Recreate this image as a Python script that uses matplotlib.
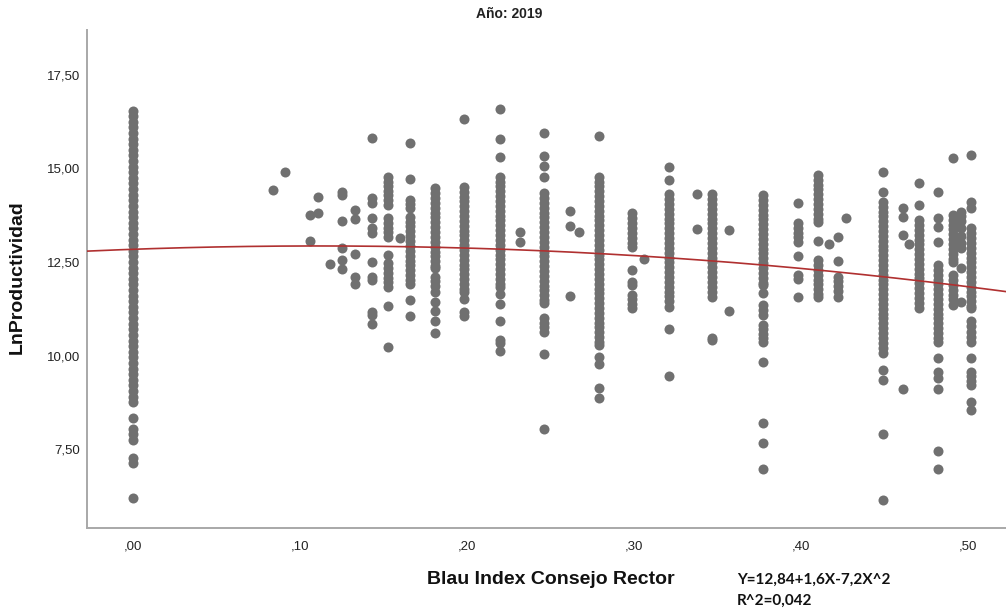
import numpy as np
import matplotlib.pyplot as plt
from matplotlib.ticker import FuncFormatter

# Quadratic fit shown under the chart
b0, b1, b2 = 12.84, 1.6, -7.2
eq_text = "Y=12,84+1,6X-7,2X^2"
r2_text = "R^2=0,042"

# LnProductividad values read per Blau index level (column of points)
y_000 = [16.55, 16.40, 16.25, 16.10, 15.95, 15.80, 15.65, 15.50, 15.35, 15.20, 15.05, 14.90,
         14.75, 14.60, 14.45, 14.30, 14.15, 14.00, 13.85, 13.70, 13.55, 13.40, 13.25, 13.10,
         12.95, 12.80, 12.65, 12.50, 12.35, 12.20, 12.05, 11.90, 11.75, 11.60, 11.45, 11.30,
         11.15, 11.00, 10.85, 10.70, 10.55, 10.40, 10.25, 10.10, 9.95, 9.80, 9.65, 9.50,
         9.35, 9.22, 9.05, 8.90, 8.76, 8.34, 8.03, 7.90, 7.74, 7.25, 7.13, 6.20]
y_084 = [14.43]
y_091 = [14.91]
y_106 = [13.76, 13.07]
y_111 = [14.24, 13.80]
y_118 = [12.44]
y_125 = [14.38, 14.29, 13.60, 12.87, 12.55, 12.30]
y_133 = [13.89, 13.65, 12.71, 12.11, 11.90]
y_143 = [15.82, 14.20, 14.07, 13.68, 13.40, 13.28, 12.49, 12.11, 12.02, 11.17, 11.08, 10.85]
y_153 = [14.78, 14.65, 14.52, 14.40, 14.29, 14.16, 14.02, 13.67, 13.55, 13.42, 13.30, 13.18,
         12.69, 12.46, 12.33, 12.20, 12.08, 11.96, 11.84, 11.33, 10.22]
y_160 = [13.13]
y_166 = [15.67, 14.72, 14.16, 14.05, 13.94, 13.71, 13.58, 13.45, 13.32, 13.19, 13.06, 12.93,
         12.80, 12.67, 12.54, 12.41, 12.28, 12.15, 12.02, 11.90, 11.48, 11.06]
y_181 = [14.47, 14.34, 14.21, 14.08, 13.95, 13.82, 13.69, 13.56, 13.43, 13.30, 13.17, 13.04,
         12.91, 12.78, 12.65, 12.52, 12.40, 12.33, 12.11, 11.98, 11.85, 11.71, 11.42, 11.19,
         10.91, 10.60]
y_198 = [16.32, 14.51, 14.38, 14.25, 14.12, 13.99, 13.86, 13.73, 13.60, 13.47, 13.34, 13.21,
         13.08, 12.95, 12.82, 12.69, 12.56, 12.43, 12.30, 12.17, 12.04, 11.91, 11.78, 11.71,
         11.51, 11.17, 11.05]
y_220 = [16.59, 15.79, 15.31, 14.78, 14.65, 14.52, 14.39, 14.26, 14.13, 14.00, 13.87, 13.74,
         13.61, 13.48, 13.35, 13.22, 13.09, 12.96, 12.83, 12.70, 12.57, 12.44, 12.31, 12.18,
         12.05, 11.92, 11.84, 11.64, 11.38, 10.92, 10.41, 10.33, 10.12]
y_232 = [13.29, 13.03]
y_246 = [15.94, 15.34, 15.08, 14.76, 14.34, 14.21, 14.08, 13.95, 13.82, 13.69, 13.56, 13.43,
         13.30, 13.17, 13.04, 12.91, 12.78, 12.65, 12.52, 12.39, 12.26, 12.13, 12.00, 11.87,
         11.74, 11.61, 11.48, 11.40, 10.99, 10.87, 10.75, 10.64, 10.03, 8.03]
y_262 = [13.86, 13.47, 11.60]
y_267 = [13.31]
y_279 = [15.88, 14.78, 14.65, 14.52, 14.39, 14.26, 14.13, 14.00, 13.87, 13.74, 13.61, 13.48,
         13.35, 13.22, 13.09, 12.96, 12.83, 12.70, 12.57, 12.44, 12.31, 12.18, 12.05, 11.92,
         11.79, 11.66, 11.53, 11.40, 11.27, 11.14, 11.01, 10.88, 10.75, 10.62, 10.49, 10.36,
         10.28, 9.97, 9.76, 9.12, 8.87]
y_299 = [13.80, 13.67, 13.54, 13.41, 13.28, 13.15, 13.02, 12.89, 12.29, 11.97, 11.88, 11.62,
         11.50, 11.38, 11.26]
y_306 = [12.58]
y_321 = [15.05, 14.69, 14.31, 14.18, 14.05, 13.92, 13.79, 13.66, 13.53, 13.40, 13.27, 13.14,
         13.01, 12.88, 12.75, 12.62, 12.49, 12.36, 12.23, 12.10, 11.97, 11.84, 11.71, 11.58,
         11.45, 11.30, 10.70, 9.45]
y_338 = [14.33, 13.37]
y_347 = [14.31, 14.18, 14.05, 13.92, 13.79, 13.66, 13.53, 13.40, 13.27, 13.14, 13.01, 12.88,
         12.75, 12.62, 12.49, 12.36, 12.23, 12.10, 11.97, 11.84, 11.71, 11.57, 10.48, 10.42]
y_357 = [13.35, 11.20]
y_377 = [14.29, 14.16, 14.03, 13.90, 13.77, 13.64, 13.51, 13.38, 13.25, 13.12, 12.99, 12.86,
         12.73, 12.60, 12.47, 12.34, 12.21, 12.08, 11.95, 11.88, 11.66, 11.35, 11.22, 11.08,
         10.82, 10.70, 10.58, 10.46, 10.37, 9.83, 8.19, 7.65, 6.96]
y_398 = [14.07, 13.53, 13.40, 13.28, 13.16, 13.04, 12.66, 12.15, 12.05, 11.56]
y_410 = [14.83, 14.70, 14.57, 14.44, 14.31, 14.18, 14.05, 13.92, 13.79, 13.66, 13.58, 13.07,
         12.55, 12.42, 12.29, 12.16, 12.03, 11.90, 11.77, 11.64, 11.57]
y_417 = [12.98]
y_422 = [13.18, 12.53, 12.11, 11.98, 11.85, 11.72, 11.57]
y_427 = [13.67]
y_449 = [14.90, 14.38, 14.11, 13.98, 13.85, 13.72, 13.59, 13.46, 13.33, 13.20, 13.07, 12.94,
         12.81, 12.68, 12.55, 12.42, 12.29, 12.16, 12.03, 11.90, 11.77, 11.64, 11.51, 11.38,
         11.25, 11.12, 10.99, 10.86, 10.73, 10.60, 10.47, 10.34, 10.21, 10.06, 9.61, 9.34,
         7.90, 6.15]
y_461 = [13.94, 13.71, 13.21, 9.10]
y_465 = [12.98]
y_471 = [14.60, 14.02, 13.62, 13.49, 13.36, 13.23, 13.10, 12.97, 12.84, 12.71, 12.58, 12.45,
         12.32, 12.19, 12.06, 11.93, 11.80, 11.67, 11.54, 11.41, 11.26]
y_482 = [14.38, 13.67, 13.44, 13.04, 12.42, 12.29, 12.16, 12.03, 11.90, 11.77, 11.64, 11.51,
         11.38, 11.25, 11.12, 10.99, 10.86, 10.73, 10.60, 10.47, 10.37, 9.92, 9.57, 9.39,
         9.10, 7.45, 6.96]
y_491 = [15.27, 13.76, 13.63, 13.50, 13.37, 13.24, 13.11, 12.98, 12.85, 12.72, 12.59, 12.51,
         12.15, 12.02, 11.89, 11.76, 11.63, 11.50, 11.35]
y_496 = [13.85, 13.72, 13.59, 13.40, 13.20, 13.00, 12.87, 12.33, 11.44]
y_502 = [15.36, 14.11, 13.94, 13.40, 13.27, 13.14, 13.01, 12.88, 12.75, 12.62, 12.49, 12.36,
         12.23, 12.10, 11.97, 11.84, 11.71, 11.58, 11.45, 11.32, 11.26, 10.91, 10.78, 10.64,
         10.50, 10.37, 9.92, 9.57, 9.44, 9.31, 9.21, 8.76, 8.54]

columns = [
    (0.000, y_000), (0.084, y_084), (0.091, y_091), (0.106, y_106), (0.111, y_111),
    (0.118, y_118), (0.125, y_125), (0.133, y_133), (0.143, y_143), (0.153, y_153),
    (0.160, y_160), (0.166, y_166), (0.181, y_181), (0.198, y_198), (0.220, y_220),
    (0.232, y_232), (0.246, y_246), (0.262, y_262), (0.267, y_267), (0.279, y_279),
    (0.299, y_299), (0.306, y_306), (0.321, y_321), (0.338, y_338), (0.347, y_347),
    (0.357, y_357), (0.377, y_377), (0.398, y_398), (0.410, y_410), (0.417, y_417),
    (0.422, y_422), (0.427, y_427), (0.449, y_449), (0.461, y_461), (0.465, y_465),
    (0.471, y_471), (0.482, y_482), (0.491, y_491), (0.496, y_496), (0.502, y_502),
]

xticks = [0.0, 0.1, 0.2, 0.3, 0.4, 0.5]
yticks = [7.5, 10.0, 12.5, 15.0, 17.5]

plt.rcParams['font.family'] = ['Liberation Sans', 'DejaVu Sans']

fig = plt.figure(figsize=(10.06, 6.10), dpi=100)
ax = fig.add_axes([87 / 1006, 1 - 528 / 610, 1 - 87 / 1006, (528 - 30) / 610])

bx = np.concatenate([[x] * len(ys) for x, ys in columns])
by = np.concatenate([ys for _, ys in columns])
ax.scatter(bx, by, s=52, color='#707070', linewidths=0, zorder=2)

xlim = (-0.0275, 0.5228)
xs = np.linspace(xlim[0], xlim[1], 200)
ax.plot(xs, b0 + b1 * xs + b2 * xs ** 2, color='#b03030', lw=1.2, zorder=3)

ax.set_xlim(*xlim)
ax.set_ylim(5.388, 18.703)
ax.set_xticks(xticks)
ax.set_yticks(yticks)

def spss_fmt(v, pos):
    s = f"{v:.2f}".replace('.', ',')
    return s[1:] if s.startswith('0') else s

ax.xaxis.set_major_formatter(FuncFormatter(spss_fmt))
ax.yaxis.set_major_formatter(FuncFormatter(spss_fmt))
ax.tick_params(length=0, labelsize=9.5, labelcolor='#222222')
ax.tick_params(axis='x', pad=9)
ax.tick_params(axis='y', pad=5)

for side in ['top', 'right']:
    ax.spines[side].set_visible(False)
for side in ['left', 'bottom']:
    ax.spines[side].set_color('#a8a8a8')
    ax.spines[side].set_linewidth(1.4)

fig.text(509 / 1006, 1 - 14 / 610, "Año: 2019", ha='center', va='center',
         fontsize=10, fontweight='bold', color='#222222')
fig.text(551 / 1006, 1 - 580 / 610, "Blau Index Consejo Rector", ha='center', va='center',
         fontsize=14, fontweight='bold', color='#111111')
fig.text(17 / 1006, 1 - 277 / 610, "LnProductividad", ha='center', va='center',
         rotation=90, fontsize=14, fontweight='bold', color='#111111')
fig.text(737 / 1006, 1 - 580 / 610, eq_text, ha='left', va='center',
         fontsize=11, fontweight='bold', family=['Lato', 'DejaVu Sans'], color='#111111')
fig.text(737 / 1006, 1 - 601 / 610, r2_text, ha='left', va='center',
         fontsize=11, fontweight='bold', family=['Lato', 'DejaVu Sans'], color='#111111')

fig.savefig('out.png', dpi=100)
